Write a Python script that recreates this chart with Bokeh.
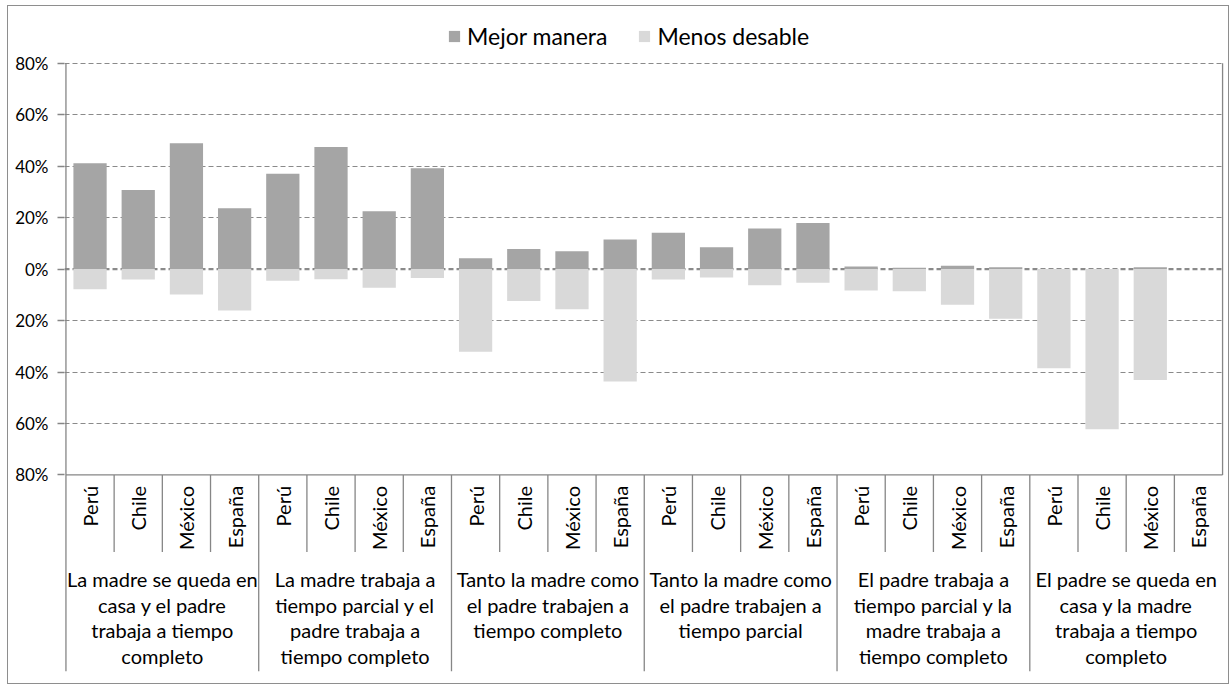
import math
from bokeh.plotting import figure
from bokeh.models import Range1d, FixedTicker, Span, Legend, LegendItem, ColumnDataSource
from bokeh.core.properties import value
from bokeh.embed import file_html
from bokeh.resources import INLINE

# ---------------- data ----------------
countries = ["Perú", "Chile", "México", "España"]
groups = [
    "La madre se queda en\ncasa y el padre\ntrabaja a tiempo\ncompleto",
    "La madre trabaja a\ntiempo parcial y el\npadre trabaja a\ntiempo completo",
    "Tanto la madre como\nel padre trabajen a\ntiempo completo",
    "Tanto la madre como\nel padre trabajen a\ntiempo parcial",
    "El padre trabaja a\ntiempo parcial y la\nmadre trabaja a\ntiempo completo",
    "El padre se queda en\ncasa y la madre\ntrabaja a tiempo\ncompleto",
]
# "Mejor manera" (%), order: group by group, countries in order above
mejor_manera = [41.1, 30.7, 48.9, 23.7,
                37.1, 47.5, 22.5, 39.2,
                4.2, 7.8, 6.9, 11.5,
                14.1, 8.5, 15.8, 17.9,
                1.0, 0.5, 1.3, 0.7,
                0.0, 0.0, 0.7, 0.0]
# "Menos desable" (%), drawn downward
menos_desable = [7.8, 4.0, 9.9, 16.1,
                 4.5, 3.9, 7.2, 3.5,
                 32.1, 12.4, 15.6, 43.7,
                 4.0, 3.3, 6.3, 5.3,
                 8.3, 8.6, 13.9, 19.3,
                 38.5, 62.2, 43.1, 0.0]
series_names = ["Mejor manera", "Menos desable"]
y_ticks = [-80, -60, -40, -20, 0, 20, 40, 60, 80]
y_tick_labels = ["80%", "60%", "40%", "20%", "0%", "20%", "40%", "60%", "80%"]

# ---------------- style ----------------
FONT = "Lato"
DARK = "#a5a5a5"
LIGHT = "#d9d9d9"
GRID = "#8a8a8a"
AXIS = "#868686"

n_per = len(countries)
n = len(groups) * n_per
xs = [i + 0.5 for i in range(n)]
country_labels = countries * len(groups)

# frame extends above the value area (legend zone) and below it (label zone)
y_top = 100.9
y_bottom = -156.4
sep_short = y_ticks[0] - 30

p = figure(width=1222, height=679, output_backend="svg", toolbar_location=None,
           x_range=Range1d(-0.03, n + 0.04), y_range=Range1d(y_bottom, y_top),
           x_axis_location=None,
           min_border_left=56, min_border_right=6, min_border_top=3, min_border_bottom=14)
p.styles = {"border": "1px solid #8e8e8e", "box-sizing": "border-box",
            "margin-left": "7px", "margin-top": "5px"}
p.outline_line_color = None
p.background_fill_color = "white"
p.border_fill_color = "white"

# grid
p.xgrid.visible = False
p.ygrid.ticker = FixedTicker(ticks=[t for t in y_ticks if t not in (0, y_ticks[0])])
p.ygrid.grid_line_color = GRID
p.ygrid.grid_line_dash = "5 3"
p.ygrid.grid_line_width = 1.2

p.add_layout(Span(location=0, dimension="width", line_color=GRID, line_width=2.2,
                  line_dash="5 3", level="underlay"))

# y axis (ticks + labels from Bokeh; its line drawn only over the value zone below)
p.yaxis.ticker = FixedTicker(ticks=y_ticks)
p.yaxis.major_label_overrides = dict(zip(y_ticks, y_tick_labels))
p.yaxis.axis_line_color = None
p.yaxis.major_tick_line_color = AXIS
p.yaxis.major_tick_line_width = 1.3
p.yaxis.major_tick_out = 7
p.yaxis.major_tick_in = 0
p.yaxis.minor_tick_line_color = None
p.yaxis.major_label_standoff = 9
p.yaxis.major_label_text_font = FONT
p.yaxis.major_label_text_font_size = "17px"
p.yaxis.major_label_text_color = "black"

# bars
src = ColumnDataSource(dict(x=xs, top=mejor_manera, neg=[-v for v in menos_desable]))
r1 = p.vbar(x="x", top="top", bottom=0, width=0.69, source=src,
            fill_color=DARK, line_color=None)
r2 = p.vbar(x="x", top=0, bottom="neg", width=0.69, source=src,
            fill_color=LIGHT, line_color=None)

# axis lines: category axis at bottom of value zone, left axis, right border
p.segment(x0=[0], x1=[n], y0=[y_ticks[0]], y1=[y_ticks[0]], line_color=AXIS, line_width=1.3)
p.segment(x0=[0], x1=[0], y0=[y_bottom], y1=[y_ticks[-1]], line_color=AXIS, line_width=1.3)
p.segment(x0=[n], x1=[n], y0=[y_ticks[0]], y1=[y_ticks[-1]], line_color=AXIS, line_width=1.3)

# separators
c_sep = [k for k in range(1, n) if k % n_per != 0]
g_sep = [k for k in range(n_per, n, n_per)]
p.segment(x0=c_sep, x1=c_sep, y0=[y_ticks[0]] * len(c_sep), y1=[sep_short] * len(c_sep),
          line_color=AXIS, line_width=1.3)
p.segment(x0=g_sep, x1=g_sep, y0=[y_ticks[0]] * len(g_sep), y1=[y_bottom] * len(g_sep),
          line_color=AXIS, line_width=1.3)

# country labels (rotated)
p.text(x=xs, y=[y_ticks[0]] * n, text=country_labels, angle=math.pi / 2,
       text_align="right", text_baseline="middle", y_offset=11,
       text_font=value(FONT), text_font_size="20px", text_color="black")

# group labels
gx = [g * n_per + n_per / 2 for g in range(len(groups))]
p.text(x=gx, y=[y_ticks[0]] * len(groups), text=groups,
       text_align="center", text_baseline="top", y_offset=92, text_line_height=1.07,
       text_font=value(FONT), text_font_size="20px", text_color="black")

# legend
legend = Legend(items=[LegendItem(label=series_names[0], renderers=[r1]),
                       LegendItem(label=series_names[1], renderers=[r2])],
                orientation="horizontal", location=(383, 621),
                glyph_width=14, glyph_height=14, label_standoff=6, spacing=30,
                padding=0, margin=0, border_line_color=None, background_fill_alpha=0,
                label_text_font=FONT, label_text_font_size="23px", label_text_color="black")
p.add_layout(legend)

open("out.html", "w").write(file_html(p, INLINE))
